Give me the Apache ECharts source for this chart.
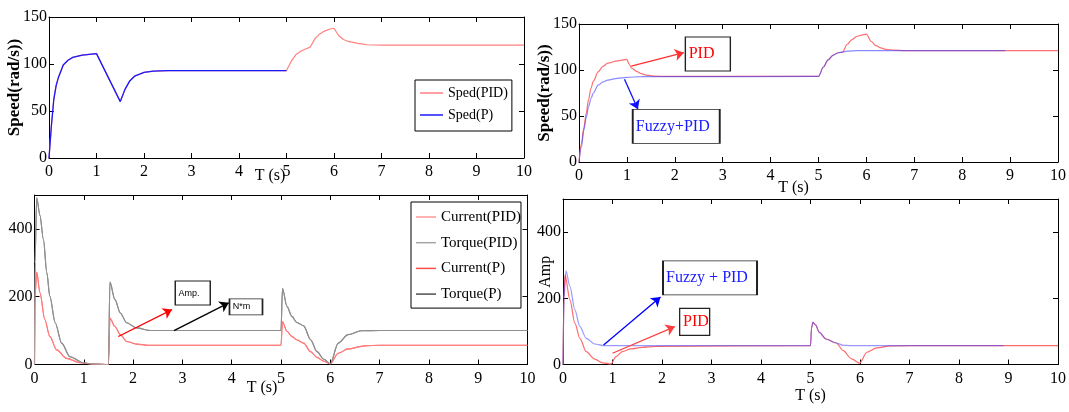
<!DOCTYPE html>
<html>
<head>
<meta charset="utf-8">
<script src="https://cdn.jsdelivr.net/npm/echarts@6/dist/echarts.min.js"></script>
<style>
  html, body { margin: 0; padding: 0; background: #fff; }
  #chart { width: 1069px; height: 412px; }
</style>
</head>
<body>
<div id="chart"></div>
<script>
// ---- top-left: speed, PID vs P ----
const spdPID_t = [0, 0.05, 0.1, 0.15, 0.2, 0.3, 0.4, 0.5, 0.7, 1.0, 1.5, 1.6, 1.7, 1.8, 2.0, 2.2, 2.5, 5.0, 5.1, 5.2, 5.3, 5.4, 5.5, 5.6, 5.7, 5.8, 5.9, 6.0, 6.1, 6.2, 6.3, 6.5, 6.7, 7.0, 10]
const spdPID_v = [0, 34, 62, 77, 86, 99, 104, 107, 109.5, 111, 60, 73, 82, 87, 91, 92.5, 93, 93, 103, 110, 113.5, 116, 118, 127, 132, 135, 137, 138, 130, 126, 124, 122, 120.5, 120, 120]
const spdP_t = [0, 0.05, 0.1, 0.15, 0.2, 0.3, 0.4, 0.5, 0.7, 1.0, 1.5, 1.6, 1.7, 1.8, 2.0, 2.2, 2.5, 5.0]
const spdP_v = [0, 34, 62, 77, 86, 99, 104, 107, 109.5, 111, 60, 73, 82, 87, 91, 92.5, 93, 93]

// ---- top-right: speed, PID vs Fuzzy+PID ----
const pid2_t = [0, 0.05, 0.1, 0.15, 0.2, 0.25, 0.3, 0.4, 0.5, 0.6, 0.8, 1.0, 1.05, 1.1, 1.2, 1.3, 1.4, 1.6, 1.8, 5.0, 5.1, 5.2, 5.3, 5.4, 5.5, 5.6, 5.7, 5.8, 5.9, 6.0, 6.1, 6.2, 6.3, 6.4, 6.6, 6.8, 10]
const pid2_v = [0, 20, 37, 53, 68, 80, 88, 98, 104, 107.5, 110, 111.5, 106, 102, 98.5, 96, 94.5, 93.3, 93, 93, 103, 111, 116, 118.5, 119.5, 128, 133, 136.5, 138, 139, 131, 126.5, 124, 122.5, 121.5, 121, 121]
const fz2_t = [0, 0.05, 0.1, 0.15, 0.2, 0.25, 0.3, 0.4, 0.5, 0.6, 0.8, 1.0, 1.3, 5.0, 5.1, 5.2, 5.3, 5.4, 5.5, 5.6, 5.8, 8.9]
const fz2_v = [0, 16, 34, 48, 60, 69, 75, 83.5, 87, 89, 91, 92, 92.8, 93, 103, 111, 116, 118.5, 119.5, 120.5, 121, 121]

// ---- bottom-left: current and torque ----
const cur_t = [0, 0.01, 0.045, 0.11, 0.21, 0.31, 0.45, 0.65, 0.92, 1.2, 1.5, 1.53, 1.63, 1.74, 1.87, 2.07, 2.3, 5.0, 5.03, 5.12, 5.22, 5.32, 5.46, 5.6, 5.73, 5.87, 6.0, 6.16, 6.36, 6.7, 7.0, 10]
const cur_v = [0, 200, 273, 212, 132, 83, 43, 18, 5, 1, 0, 137, 112, 88, 68, 60, 57, 57, 126, 98, 83, 73, 63, 38, 21, 9.5, 2, 33, 46, 55, 57, 57]
const trq_t = [0, 0.01, 0.045, 0.11, 0.18, 0.25, 0.31, 0.42, 0.55, 0.72, 0.99, 1.2, 1.5, 1.53, 1.63, 1.74, 1.87, 2.07, 2.35, 5.0, 5.03, 5.12, 5.22, 5.32, 5.46, 5.6, 5.73, 5.87, 6.0, 6.16, 6.36, 6.63, 7.0, 10]
const trq_v = [0, 300, 492, 440, 370, 271, 202, 123, 63, 23, 5, 1, 0, 243, 192, 152, 123, 108, 100.5, 100.5, 224, 172, 142, 124, 114, 73, 38, 15.5, 2, 63, 88, 99.5, 100.5, 100.5]

// ---- bottom-right: current, PID vs Fuzzy+PID ----
const fz4_t = [0, 0.02, 0.06, 0.14, 0.24, 0.34, 0.47, 0.64, 0.84, 1.0, 5.0, 5.02, 5.05, 5.1, 5.18, 5.31, 5.52, 5.66, 5.8, 8.9]
const fz4_v = [0, 200, 283, 236, 165, 115, 79, 62, 57, 57, 57, 110, 128, 120, 97, 77, 65, 58, 57, 57]
const pid4_t = [0, 0.02, 0.04, 0.14, 0.24, 0.34, 0.47, 0.64, 0.8, 0.97, 1.07, 1.2, 1.37, 1.6, 1.87, 5.0, 5.02, 5.05, 5.1, 5.18, 5.31, 5.52, 5.66, 5.83, 5.99, 6.14, 6.34, 6.62, 7.0, 10]
const pid4_v = [0, 200, 271, 195, 125, 79, 39, 16, 5, 1.5, 24, 39, 47, 52, 55, 57, 110, 127, 120, 97, 77, 65, 42, 17, 4, 37, 50, 56, 57, 57]

const xTicks = [0, 1, 2, 3, 4, 5, 6, 7, 8, 9, 10]

const serif = 'Liberation Serif'
const pts = (ts, vs) => ts.map((t, i) => [t, vs[i]])

const xPair = (grid, gap, padR) => [
  {
    type: 'value', gridIndex: grid, position: 'bottom',
    min: xTicks[0], max: xTicks[xTicks.length - 1], interval: 1,
    name: 'T (s)', nameLocation: 'middle', nameGap: gap, nameMoveOverlap: false,
    nameTextStyle: { fontFamily: serif, fontSize: 16, color: '#000', padding: [0, padR, 0, 0] },
    axisLine: { show: true, onZero: false, lineStyle: { color: '#000', width: 1 } },
    axisTick: { show: true, inside: true, length: 5, lineStyle: { color: '#000' } },
    axisLabel: { fontFamily: serif, fontSize: 16, color: '#000', margin: 6 },
    splitLine: { show: false }
  },
  {
    type: 'value', gridIndex: grid, position: 'top',
    min: xTicks[0], max: xTicks[xTicks.length - 1], interval: 1,
    axisLine: { show: true, onZero: false, lineStyle: { color: '#000', width: 1 } },
    axisTick: { show: true, inside: true, length: 5, lineStyle: { color: '#000' } },
    axisLabel: { show: false },
    splitLine: { show: false }
  }
]

const yPair = (grid, max, interval, name, gap, nameStyle) => [
  {
    type: 'value', gridIndex: grid, position: 'left',
    min: 0, max: max, interval: interval,
    name: name, nameLocation: 'middle', nameGap: gap, nameMoveOverlap: false,
    nameTextStyle: Object.assign({ fontFamily: serif, color: '#000' }, nameStyle),
    axisLine: { show: true, onZero: false, lineStyle: { color: '#000', width: 1 } },
    axisTick: { show: true, inside: true, length: 5, lineStyle: { color: '#000' } },
    axisLabel: { fontFamily: serif, fontSize: 16, color: '#000', margin: 2, showMaxLabel: max === 150 },
    splitLine: { show: false }
  },
  {
    type: 'value', gridIndex: grid, position: 'right',
    min: 0, max: max, interval: interval,
    axisLine: { show: true, onZero: false, lineStyle: { color: '#000', width: 1 } },
    axisTick: { show: true, inside: true, length: 5, lineStyle: { color: '#000' } },
    axisLabel: { show: false },
    splitLine: { show: false }
  }
]

const line = (name, xi, data, color, width, z, smooth) => ({
  type: 'line', name: name, xAxisIndex: xi, yAxisIndex: xi,
  data: data, symbol: 'none', showSymbol: false,
  smooth: smooth === undefined ? 0.3 : smooth, smoothMonotone: 'x',
  lineStyle: { color: color, width: width }, itemStyle: { color: color },
  z: z, silent: true
})

const arrow = (from, to, color) => [
  { coord: from, lineStyle: { color: color, width: 1.3, type: 'solid' } },
  { coord: to }
]

const box = (coord, size, text, color, font, size2, pos) => ({
  coord: coord, symbol: 'rect', symbolSize: size,
  itemStyle: { color: '#fff', borderColor: '#222', borderWidth: 1.2 },
  label: {
    show: true, position: pos || 'insideLeft', distance: 4, formatter: text,
    color: color, fontFamily: font, fontSize: size2
  }
})

const markArrows = (items) => ({
  silent: true, symbol: ['none', 'arrow'], symbolSize: 9,
  label: { show: false }, emphasis: { disabled: true },
  animation: false, data: items
})

const markBoxes = (items) => ({
  silent: true, animation: false, emphasis: { disabled: true }, data: items
})

const chart = echarts.init(document.getElementById('chart'))

const s2red = line('PID', 2, pts(pid2_t, pid2_v), '#ff7070', 1.2, 2)
s2red.markLine = markArrows([
  arrow([1.09, 104.3], [2.19, 118.8], '#ff3030'),
  arrow([0.95, 89.9], [1.23, 57.3], '#1010ff')
])
s2red.markPoint = markBoxes([
  box([2.69, 117.4], [45, 34], 'PID', '#ff0000', serif, 16),
  box([2.03, 38.8], [87, 34], 'Fuzzy+PID', '#1a1aff', serif, 16)
])

const s3cur = line('Current(PID)', 4, pts(cur_t, cur_v), 'rgba(255,140,140,0.75)', 1.1, 4)
s3cur.itemStyle = { color: '#ff9999' }
s3cur.markLine = markArrows([
  arrow([1.70, 82.7], [2.79, 162], '#ff0000'),
  arrow([2.83, 99.7], [3.94, 182], '#000000')
])
s3cur.markPoint = markBoxes([
  box([3.21, 210.7], [35, 24], 'Amp.', '#000', 'Liberation Sans', 9),
  box([4.29, 170], [33, 16], 'N*m', '#000', 'Liberation Sans', 9, 'insideBottomLeft')
])

const s4red = line('PID', 6, pts(pid4_t, pid4_v), '#ff6a6a', 1.2, 2)
s4red.markLine = markArrows([
  arrow([0.82, 59], [1.97, 203.6], '#0000ff'),
  arrow([1.0, 34], [2.26, 114.5], '#ff4040')
])
s4red.markPoint = markBoxes([
  box([2.97, 262], [94, 34], 'Fuzzy + PID', '#1a1aff', serif, 16),
  box([2.66, 128.8], [30, 27], 'PID', '#ff0000', serif, 16)
])

const option = {
  animation: false,
  backgroundColor: '#fff',
  grid: [
    { left: 49, top: 17, width: 475, height: 141 },
    { left: 579, top: 24, width: 483, height: 138 },
    { left: 34.5, top: 195, width: 493, height: 169.5 },
    { left: 563, top: 199, width: 502, height: 165.5 }
  ],
  xAxis: [
    ...xPair(0, 10, 33),
    ...xPair(1, 18, 50),
    ...xPair(2, 15, 38),
    ...xPair(3, 23, 0)
  ],
  yAxis: [
    ...yPair(0, 150, 50, 'Speed(rad/s))', 26, { fontSize: 17, fontWeight: 'bold' }),
    ...yPair(1, 150, 50, 'Speed(rad/s))', 26, { fontSize: 17, fontWeight: 'bold' }),
    ...yPair(2, 500, 200, '', 20, {}),
    ...yPair(3, 500, 200, 'Amp', 9, { fontSize: 16, padding: [0, 0, 0, 20] })
  ],
  legend: [
    {
      data: ['Sped(PID)', 'Sped(P)'], orient: 'vertical', left: 415, top: 80,
      padding: [5, 4, 8, 5], itemGap: 6, itemWidth: 23, itemHeight: 1.5, icon: 'rect',
      backgroundColor: '#fff', borderColor: '#000', borderWidth: 1, borderRadius: 0,
      selectedMode: false,
      textStyle: { fontFamily: serif, fontSize: 14, color: '#000', lineHeight: 16 }
    },
    {
      data: ['Current(PID)', 'Torque(PID)', 'Current(P)', 'Torque(P)'], orient: 'vertical',
      left: 411, top: 202,
      padding: [6, 0, 5, 5], itemGap: 7.7, itemWidth: 20, itemHeight: 1.5, icon: 'rect',
      backgroundColor: '#fff', borderColor: '#000', borderWidth: 1, borderRadius: 0,
      selectedMode: false,
      textStyle: { fontFamily: serif, fontSize: 15, color: '#000', lineHeight: 18 }
    }
  ],
  series: [
    line('Sped(PID)', 0, pts(spdPID_t, spdPID_v), '#ff8080', 1.2, 2, false),
    line('Sped(P)', 0, pts(spdP_t, spdP_v), '#1a1aff', 1.3, 3, false),

    s2red,
    line('Fuzzy+PID', 2, pts(fz2_t, fz2_v), 'rgba(60,60,255,0.6)', 1.2, 3),

    line('Current(P)', 4, pts(cur_t, cur_v), '#ff4d4d', 1.1, 2),
    line('Torque(P)', 4, pts(trq_t, trq_v), '#505050', 1.1, 2),
    s3cur,
    Object.assign(line('Torque(PID)', 4, pts(trq_t, trq_v), 'rgba(170,170,170,0.7)', 1.1, 4), { itemStyle: { color: '#a6a6a6' } }),

    s4red,
    line('Fuzzy + PID', 6, pts(fz4_t, fz4_v), 'rgba(70,70,255,0.55)', 1.2, 3)
  ]
}

chart.setOption(option)
</script>
</body>
</html>
